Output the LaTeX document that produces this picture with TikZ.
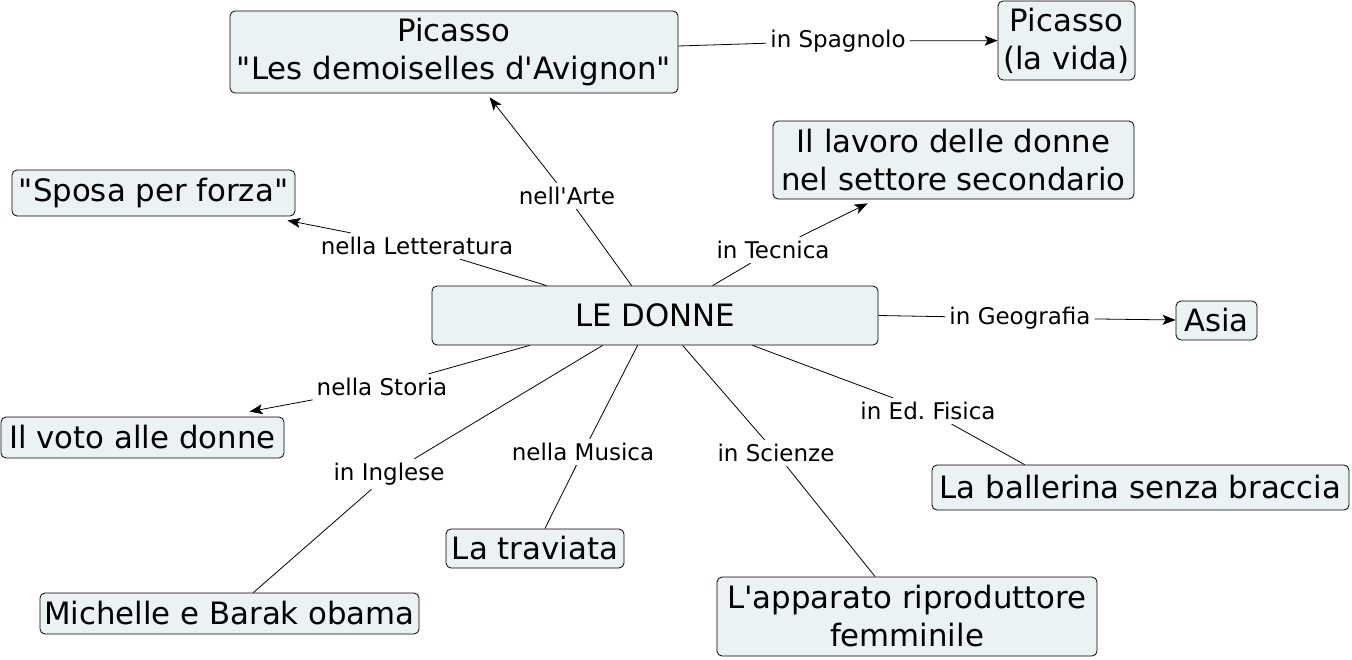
\documentclass[tikz,border=0pt]{standalone}
\usepackage{fontspec}
\setmainfont{DejaVu Sans}[Ligatures=TeXOff]
\usetikzlibrary{arrows.meta}
\definecolor{boxfill}{RGB}{235,242,244}
\tikzset{
  concept/.style={draw=black, line width=0.8pt, fill=boxfill, rounded corners=5pt, align=center,
    inner sep=0pt, font=\fontsize{30.8}{38}\selectfont},
  linkword/.style={inner sep=4pt, font=\fontsize{23}{27}\selectfont},
  conn/.style={draw=black, line width=0.8pt},
  arr/.style={conn, -{Stealth[length=13pt,width=10pt,inset=3pt]}}
}
\begin{document}
\begin{tikzpicture}[x=1pt,y=-1pt]
\useasboundingbox (0,0) rectangle (1352,659);
% concepts
\node[concept, minimum width=448pt, minimum height=82pt] (picasso) at (454,52) {Picasso\\"Les demoiselles d'Avignon"};
\node[concept, minimum width=137pt, minimum height=79pt] (vida) at (1066.5,40.5) {Picasso\\(la vida)};
\node[concept, minimum width=361pt, minimum height=78pt] (lavoro) at (953.5,160) {Il lavoro delle donne\\nel settore secondario};
\node[concept, minimum width=283pt, minimum height=46pt] (sposa) at (153.5,193) {"Sposa per forza"};
\node[concept, minimum width=446pt, minimum height=59pt] (ledonne) at (655,315.5) {LE DONNE};
\node[concept, minimum width=81pt, minimum height=39pt] (asia) at (1216.5,320.5) {Asia};
\node[concept, minimum width=283pt, minimum height=41pt] (voto) at (142.5,437.5) {Il voto alle donne};
\node[concept, minimum width=417pt, minimum height=45pt] (ballerina) at (1140.5,487.5) {La ballerina senza braccia};
\node[concept, minimum width=178pt, minimum height=39pt] (traviata) at (535,548.5) {La traviata};
\node[concept, minimum width=379pt, minimum height=41pt] (michelle) at (229.5,613.5) {Michelle e Barak obama};
\node[concept, minimum width=380pt, minimum height=79pt] (apparato) at (907,616.5) {L'apparato riproduttore\\femminile};
% linking words
\node[linkword] (larte) at (567,196) {nell'Arte};
\node[linkword] (lspagnolo) at (838,41) {in Spagnolo};
\node[linkword] (ltecnica) at (773,250) {in Tecnica};
\node[linkword] (lletteratura) at (417,246) {nella Letteratura};
\node[linkword] (lgeografia) at (1020,318) {in Geografia};
\node[linkword] (lstoria) at (382,387) {nella Storia};
\node[linkword] (lfisica) at (928,411) {in Ed.\ Fisica};
\node[linkword] (linglese) at (389,474) {in Inglese};
\node[linkword] (lmusica) at (583,452) {nella Musica};
\node[linkword] (lscienze) at (776,453) {in Scienze};
% connectors
\draw[conn] ([xshift=200pt]ledonne.north west) -- (larte);
\draw[arr] (larte) -- ([xshift=260pt,yshift=-4pt]picasso.south west);
\draw[conn] ([yshift=6pt]picasso.east) -- (lspagnolo);
\draw[arr] (lspagnolo) -- (vida);
\draw[conn] ([xshift=281pt]ledonne.north west) -- (ltecnica);
\draw[arr] (ltecnica) -- ([xshift=95pt,yshift=-4pt]lavoro.south west);
\draw[conn] ([xshift=115pt]ledonne.north west) -- (lletteratura);
\draw[arr] (lletteratura) -- ([xshift=-8pt,yshift=-4pt]sposa.south east);
\draw[conn] (ledonne.east) -- (lgeografia);
\draw[arr] (lgeografia) -- (asia);
\draw[conn] ([xshift=98pt]ledonne.south west) -- (lstoria);
\draw[arr] (lstoria) -- ([xshift=249pt,yshift=5pt]voto.north west);
\draw[conn] ([xshift=321pt]ledonne.south west) -- (lfisica);
\draw[conn] (lfisica) -- ([xshift=93pt]ballerina.north west);
\draw[conn] ([xshift=171pt]ledonne.south west) -- (linglese);
\draw[conn] (linglese) -- (michelle);
\draw[conn] ([xshift=206pt]ledonne.south west) -- (lmusica);
\draw[conn] (lmusica) -- (traviata);
\draw[conn] ([xshift=251pt]ledonne.south west) -- (lscienze);
\draw[conn] (lscienze) -- (apparato);
\end{tikzpicture}
\end{document}
